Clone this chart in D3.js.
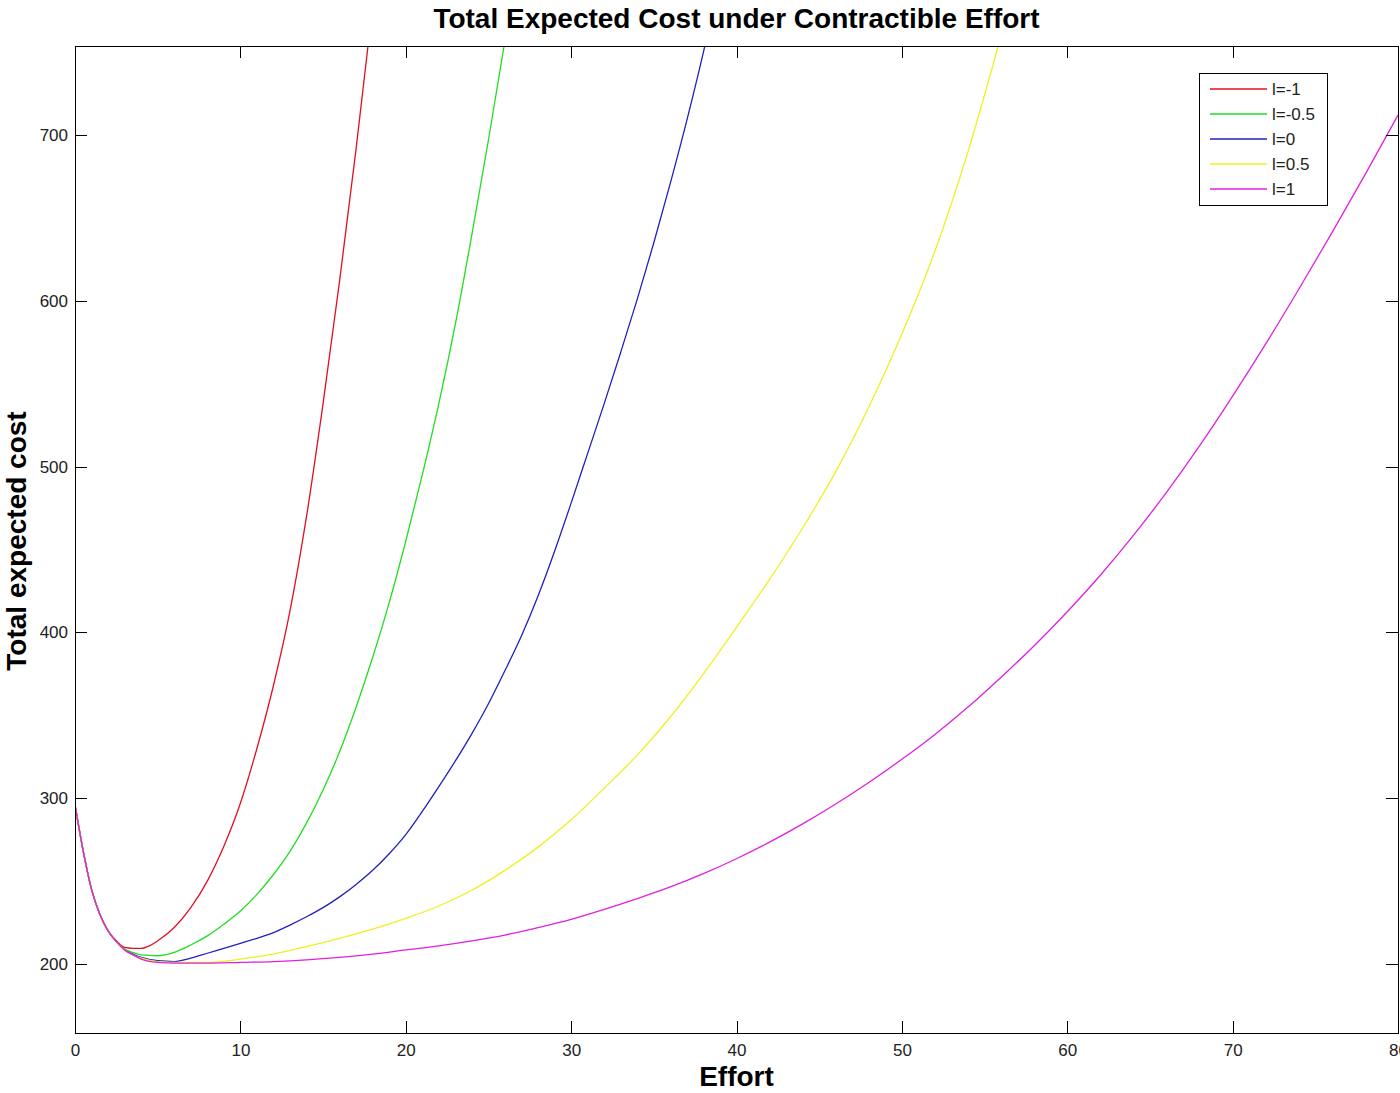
<!DOCTYPE html>
<html>
<head>
<meta charset="utf-8">
<script src="https://cdn.jsdelivr.net/npm/d3@7"></script>
<style>
    body { margin: 0; background: #fff; }
    svg { display: block; }
    .axis text { font-family: "Liberation Sans", Arial, sans-serif; font-size: 17px; fill: #222; }
    .axis path, .axis line { stroke: #000; stroke-width: 1; shape-rendering: crispEdges; }
</style>
</head>
<body>
<div id="graph"></div>
<script>
// values
var effortRed = [0, 0.5, 1, 1.5, 2, 2.5, 3, 3.5, 4, 4.5, 5, 6, 7, 8, 9, 10, 11, 12, 13, 14, 15, 16, 17, 18];
var costRed = [296, 268, 245, 230, 220, 214, 210, 209.5, 209.5, 211, 214, 222, 234, 250, 271, 297, 330, 368, 413, 470, 538, 612, 692, 778];

var effortGreen = [0, 0.5, 1, 1.5, 2, 2.5, 3, 3.5, 4, 5, 6, 7, 8, 9, 10, 11, 12, 13, 14, 15, 16, 17, 18, 19, 20, 21, 22, 23, 24, 25, 26, 26.5];
var costGreen = [296, 268, 245, 230, 220, 213.5, 209, 207, 205.5, 205, 207, 211.5, 217, 224, 232, 242, 254, 268, 285, 305, 328, 355, 385, 418, 455, 495, 538, 586, 640, 697, 757, 788];

var effortBlue = [0, 0.5, 1, 1.5, 2, 2.5, 3, 3.5, 4, 5, 6, 7, 8, 9, 10, 11, 12, 13, 14, 15, 16, 17, 18, 19, 20, 21, 22, 23, 24, 25, 26, 27, 28, 29, 30, 31, 32, 33, 34, 35, 36, 37, 38, 38.5];
var costBlue = [296, 268, 245, 230, 220, 213.5, 208.5, 206, 204, 202, 201.5, 203.5, 206.5, 209.5, 212.5, 215.5, 219, 223.5, 228.5, 234, 240.5, 248, 256.5, 266.5, 278, 292, 307, 322.5, 339, 357, 377, 398, 422, 449, 478, 508, 538, 569, 601, 635, 671, 709, 750, 772];

var effortYellow = [0, 0.5, 1, 1.5, 2, 2.5, 3, 3.5, 4, 5, 6, 8, 10, 12, 14, 16, 18, 20, 22, 24, 26, 28, 30, 32, 34, 36, 38, 40, 42, 44, 46, 48, 50, 52, 54, 56];
var costYellow = [296, 268, 245, 230, 220, 213.5, 208.5, 205.5, 203.5, 201.5, 201, 201, 203, 206, 210.5, 215.5, 221, 227.5, 235, 244.5, 256.5, 270.5, 287, 306, 326, 349, 375, 403, 432, 463, 497, 536, 580, 630, 690, 760];

var effortMagenta = [0, 0.5, 1, 1.5, 2, 2.5, 3, 3.5, 4, 5, 6, 8, 10, 12, 14, 16, 18, 20, 22, 24, 26, 28, 30, 32, 34, 36, 38, 40, 42, 44, 46, 48, 50, 52, 54, 56, 58, 60, 62, 64, 66, 68, 70, 72, 74, 76, 78, 80];
var costMagenta = [296, 268, 245, 230, 220, 213.5, 208.5, 205.5, 203, 201, 200.5, 200.5, 201, 201.5, 202.5, 204, 206, 208.5, 211, 214, 217.5, 222, 227, 233, 239.5, 246.5, 254.5, 263.5, 273.5, 284.5, 296.5, 309.5, 323.5, 338.5, 355, 373, 392, 412.5, 434.5, 458.5, 484.5, 512.5, 542.5, 574, 607, 641, 676, 712];

var seriesNames = ["l=-1", "l=-0.5", "l=0", "l=0.5", "l=1"];
var seriesColors = ["#e01020", "#22dd22", "#2020c0", "#f0f020", "#e020e0"];

var xTicks = [0, 10, 20, 30, 40, 50, 60, 70, 80];
var yTicks = [200, 300, 400, 500, 600, 700];

var width = 1400;
var height = 1093;
var plot = {left: 75, right: 1398, top: 46, bottom: 1033};

var series = [
    {name: seriesNames[0], color: seriesColors[0], effort: effortRed, cost: costRed},
    {name: seriesNames[1], color: seriesColors[1], effort: effortGreen, cost: costGreen},
    {name: seriesNames[2], color: seriesColors[2], effort: effortBlue, cost: costBlue},
    {name: seriesNames[3], color: seriesColors[3], effort: effortYellow, cost: costYellow},
    {name: seriesNames[4], color: seriesColors[4], effort: effortMagenta, cost: costMagenta}
];

var svg = d3.select("#graph").append("svg")
    .attr("width", width)
    .attr("height", height);

var x = d3.scaleLinear().domain([0, 80]).range([plot.left, plot.right]);
var y = d3.scaleLinear().domain([158.4, 753.7]).range([plot.bottom, plot.top]);

svg.append("clipPath")
    .attr("id", "plot-clip")
    .append("rect")
    .attr("x", plot.left)
    .attr("y", plot.top)
    .attr("width", plot.right - plot.left)
    .attr("height", plot.bottom - plot.top);

var line = d3.line()
    .curve(d3.curveMonotoneX)
    .x(function(d) { return x(d[0]); })
    .y(function(d) { return y(d[1]); });

svg.append("g")
    .attr("clip-path", "url(#plot-clip)")
    .selectAll("path")
    .data(series)
    .enter()
    .append("path")
    .attr("fill", "none")
    .attr("stroke", function(d) { return d.color; })
    .attr("stroke-width", 1.3)
    .attr("d", function(d) {
        return line(d.effort.map(function(e, i) { return [e, d.cost[i]]; }));
    });

// axes, matlab style: ticks point inwards, box all round
svg.append("g")
    .attr("class", "axis axis--x")
    .attr("transform", "translate(0," + plot.bottom + ")")
    .call(d3.axisBottom(x).tickValues(xTicks).tickSizeInner(-12).tickSizeOuter(0).tickPadding(11));

svg.append("g")
    .attr("class", "axis axis--top")
    .attr("transform", "translate(0," + plot.top + ")")
    .call(d3.axisTop(x).tickValues(xTicks).tickFormat("").tickSizeInner(-12).tickSizeOuter(0));

svg.append("g")
    .attr("class", "axis axis--y")
    .attr("transform", "translate(" + plot.left + ",0)")
    .call(d3.axisLeft(y).tickValues(yTicks).tickSizeInner(-12).tickSizeOuter(0).tickPadding(7));

svg.append("g")
    .attr("class", "axis axis--right")
    .attr("transform", "translate(" + plot.right + ",0)")
    .call(d3.axisRight(y).tickValues(yTicks).tickFormat("").tickSizeInner(-12).tickSizeOuter(0));

svg.append("text")
    .attr("x", (plot.left + plot.right) / 2)
    .attr("y", 28)
    .attr("text-anchor", "middle")
    .attr("font-family", "Liberation Sans, Arial, sans-serif")
    .attr("font-weight", "bold")
    .attr("font-size", 28)
    .text("Total Expected Cost under Contractible Effort");

svg.append("text")
    .attr("x", (plot.left + plot.right) / 2)
    .attr("y", 1086)
    .attr("text-anchor", "middle")
    .attr("font-family", "Liberation Sans, Arial, sans-serif")
    .attr("font-weight", "bold")
    .attr("font-size", 28)
    .text("Effort");

svg.append("text")
    .attr("transform", "translate(26," + 541 + ") rotate(-90)")
    .attr("text-anchor", "middle")
    .attr("font-family", "Liberation Sans, Arial, sans-serif")
    .attr("font-weight", "bold")
    .attr("font-size", 28)
    .text("Total expected cost");

// legend
var legend = svg.append("g").attr("class", "legend")
    .attr("transform", "translate(1199,73)");

legend.append("rect")
    .attr("width", 128)
    .attr("height", 132)
    .attr("fill", "#fff")
    .attr("stroke", "#000")
    .attr("stroke-width", 1)
    .attr("shape-rendering", "crispEdges");

var items = legend.selectAll(".item")
    .data(series)
    .enter()
    .append("g")
    .attr("class", "item")
    .attr("transform", function(d, i) { return "translate(0," + (16 + i * 25) + ")"; });

items.append("line")
    .attr("x1", 11)
    .attr("x2", 68)
    .attr("stroke", function(d) { return d.color; })
    .attr("stroke-width", 1.3);

items.append("text")
    .attr("x", 73)
    .attr("dy", "0.35em")
    .attr("font-family", "Liberation Sans, Arial, sans-serif")
    .attr("font-size", 17)
    .attr("fill", "#222")
    .text(function(d) { return d.name; });
</script>
</body>
</html>
